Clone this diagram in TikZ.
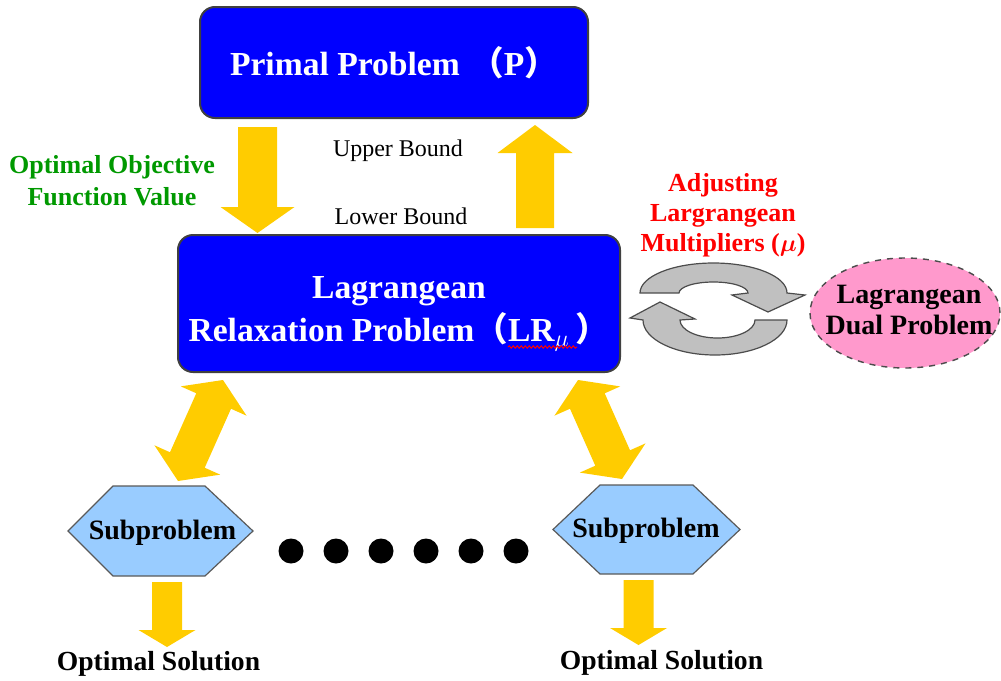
\documentclass[tikz,border=0pt]{standalone}
\usepackage{fontspec}
\setmainfont{Liberation Serif}
\newfontfamily\cjkfont{Noto Sans CJK SC}
\usetikzlibrary{calc,decorations.pathmorphing}

\definecolor{boxblue}{RGB}{0,0,255}
\definecolor{arrowgold}{RGB}{255,204,0}
\definecolor{hexblue}{RGB}{153,204,255}
\definecolor{dualpink}{RGB}{255,153,204}
\definecolor{cyclegray}{RGB}{192,192,192}
\definecolor{labelgreen}{RGB}{0,153,0}
\definecolor{labelred}{RGB}{255,0,0}

% block arrow: #1 half shaft width, #2 half head width, #3 head length, #4 tail, #5 tip
\newcommand\singleblock[5]{%
  \coordinate (ba-h) at ($(#5)!#3!(#4)$);
  \fill[arrowgold] ($(#4)!#1!90:(#5)$) -- ($(ba-h)!#1!90:(#5)$) -- ($(ba-h)!#2!90:(#5)$)
    -- (#5) -- ($(ba-h)!#2!-90:(#5)$) -- ($(ba-h)!#1!-90:(#5)$) -- ($(#4)!#1!-90:(#5)$) -- cycle;}
% two-headed block arrow between #4 and #5
\newcommand\doubleblock[5]{%
  \coordinate (ba-h) at ($(#5)!#3!(#4)$);
  \coordinate (ba-t) at ($(#4)!#3!(#5)$);
  \fill[arrowgold] (#4) -- ($(ba-t)!#2!90:(#5)$) -- ($(ba-t)!#1!90:(#5)$) -- ($(ba-h)!#1!90:(#5)$)
    -- ($(ba-h)!#2!90:(#5)$) -- (#5) -- ($(ba-h)!#2!-90:(#5)$) -- ($(ba-h)!#1!-90:(#5)$)
    -- ($(ba-t)!#1!-90:(#5)$) -- ($(ba-t)!#2!-90:(#5)$) -- cycle;}

\tikzset{
  bigbox/.style={draw=black!75, line width=1pt, fill=boxblue, rounded corners=7.5pt,
    text=white, align=center, font=\fontsize{16.8}{21.5}\selectfont\bfseries},
  boundtext/.style={font=\fontsize{12}{14}\selectfont},
  greentext/.style={text=labelgreen, align=center, font=\fontsize{13}{16}\selectfont\bfseries},
  redtext/.style={text=labelred, align=center, font=\fontsize{13}{15}\selectfont\bfseries},
  dualtext/.style={align=center, font=\fontsize{14}{16}\selectfont\bfseries},
  subtext/.style={font=\fontsize{14}{16}\selectfont\bfseries},
  soltext/.style={font=\fontsize{13.8}{16}\selectfont\bfseries},
  hexstyle/.style={fill=hexblue, draw=black!65, line width=0.6pt},
  cyclestyle/.style={fill=cyclegray, draw=black!70, line width=0.6pt},
  dotstyle/.style={circle, fill=black, minimum size=12.5pt, inner sep=0pt},
}

\begin{document}
\begin{tikzpicture}[x=0.5pt,y=0.5pt]
\useasboundingbox (0,0) rectangle (1001,-680);

% main problem boxes
\node[bigbox, minimum width=194pt, minimum height=55.5pt] (primal) at (394,-62.5)
  {Primal Problem \hspace{1pt}{\cjkfont （}P{\cjkfont ）}};
\node[bigbox, minimum width=221pt, minimum height=68.5pt] (lr) at (399,-303.5)
  {\rule{0pt}{21pt}Lagrangean\\Relaxation Problem{\cjkfont （}LR$_{\mu}$\hspace{3pt}{\cjkfont ）}};
\draw[red, line width=0.5pt, decorate, decoration={snake, amplitude=0.6pt, segment length=2pt}]
  (508,-347) -- (577,-347);

% bound labels
\node[boundtext] (ub) at (398,-151) {Upper Bound};
\node[boundtext] (lb) at (401,-216) {Lower Bound};
\node[greentext] (ofv) at (112,-181) {Optimal Objective\\Function Value};

% block arrows between primal and relaxation
\coordinate (downS) at (257.5,-127);
\coordinate (downT) at (257.5,-233);
\coordinate (upS) at (535,-228);
\coordinate (upT) at (535,-125);
\singleblock{9.75pt}{18.5pt}{13pt}{downS}{downT}
\singleblock{9.5pt}{18.75pt}{14pt}{upS}{upT}

% multiplier update cycle and dual problem
\node[redtext] (adj) at (723,-215) {Adjusting\\Largrangean\\Multipliers ({\boldmath$\mu$})};
\filldraw[cyclestyle] (640,-293) arc[start angle=180, end angle=0, x radius=73.5, y radius=30]
  -- (805,-295) -- (768,-312) -- (732,-295) -- (748,-293)
  arc[start angle=0, end angle=180, x radius=34.5, y radius=11] -- cycle;
\filldraw[cyclestyle] (787,-320) arc[start angle=0, end angle=-180, x radius=72, y radius=35]
  -- (630,-318) -- (660,-302) -- (695,-319) -- (680,-320)
  arc[start angle=180, end angle=360, x radius=37.5, y radius=18] -- cycle;
\coordinate (dualC) at (905,-313);
\filldraw[fill=dualpink, draw=black!70, dashed, line width=0.7pt]
  (dualC) ellipse[x radius=95, y radius=55];
\node[dualtext] (dual) at (909,-310) {Lagrangean\\Dual Problem};

% subproblems
\coordinate (hexL) at (160.5,-531);
\coordinate (hexR) at (646.5,-529.5);
\filldraw[hexstyle] ($(hexL)+(-92.5,0)$) -- ($(hexL)+(-47.5,45)$) -- ($(hexL)+(44.5,45)$)
  -- ($(hexL)+(92.5,0)$) -- ($(hexL)+(44.5,-45)$) -- ($(hexL)+(-47.5,-45)$) -- cycle;
\filldraw[hexstyle] ($(hexR)+(-93.5,0)$) -- ($(hexR)+(-46.5,44.5)$) -- ($(hexR)+(46.5,44.5)$)
  -- ($(hexR)+(93.5,0)$) -- ($(hexR)+(46.5,-44.5)$) -- ($(hexR)+(-46.5,-44.5)$) -- cycle;
\node[subtext] (subL) at (162.5,-533) {Subproblem};
\node[subtext] (subR) at (646,-531) {Subproblem};

% two-way links between relaxation and subproblems
\coordinate (linkLa) at (178,-481);
\coordinate (linkLb) at (223,-380);
\coordinate (linkRa) at (578,-380);
\coordinate (linkRb) at (622,-479);
\doubleblock{9.5pt}{18pt}{11.5pt}{linkLa}{linkLb}
\doubleblock{9.5pt}{18pt}{11.5pt}{linkRa}{linkRb}

% ellipsis dots
\foreach \i in {0,...,5}
  \node[dotstyle] (dot\i) at (291+45*\i,-551) {};

% outputs of subproblems
\coordinate (solLS) at (167,-582);
\coordinate (solLT) at (167,-647);
\coordinate (solRS) at (638.5,-580);
\coordinate (solRT) at (638.5,-645);
\singleblock{7.5pt}{14.25pt}{8.5pt}{solLS}{solLT}
\singleblock{7.5pt}{14.25pt}{8.5pt}{solRS}{solRT}
\node[soltext] (solL) at (158.5,-664) {Optimal Solution};
\node[soltext] (solR) at (661.5,-663) {Optimal Solution};
\end{tikzpicture}
\end{document}
